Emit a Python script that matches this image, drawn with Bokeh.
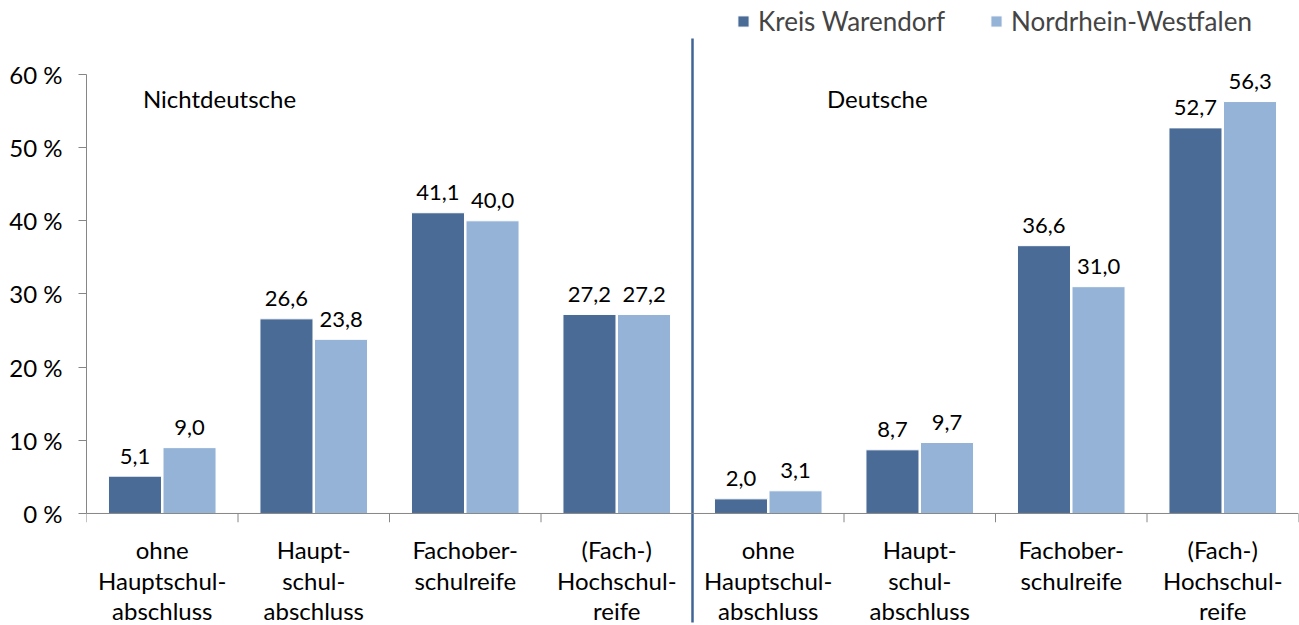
from bokeh.plotting import figure
from bokeh.models import ColumnDataSource, Legend, LegendItem, FixedTicker, Range1d, Span
from bokeh.core.properties import value
from bokeh.embed import file_html
from bokeh.resources import INLINE

# ---- data ----
categories = [
    "ohne\nHauptschul-\nabschluss", "Haupt-\nschul-\nabschluss", "Fachober-\nschulreife", "(Fach-)\nHochschul-\nreife",
    "ohne\nHauptschul-\nabschluss", "Haupt-\nschul-\nabschluss", "Fachober-\nschulreife", "(Fach-)\nHochschul-\nreife",
]
warendorf = [5.1, 26.6, 41.1, 27.2, 2.0, 8.7, 36.6, 52.7]
nrw = [9.0, 23.8, 40.0, 27.2, 3.1, 9.7, 31.0, 56.3]
series_names = ["Kreis Warendorf", "Nordrhein-Westfalen"]
group_labels = ["Nichtdeutsche", "Deutsche"]
y_ticks = [0, 10, 20, 30, 40, 50, 60]

FONT = "Lato"
DARK = "#4a6b96"
LIGHT = "#95b3d7"
AXIS = "#868686"

n = len(categories)
centers = [i + 0.5 for i in range(n)]
off = 0.18
bw = 0.35
Y0, Y1 = -15.31, 70.11

fmt = lambda v: f"{v:.1f}".replace(".", ",")

src = ColumnDataSource(dict(
    xw=[c - off for c in centers], xn=[c + off for c in centers],
    w=warendorf, n=nrw,
    wl=[fmt(v) for v in warendorf], nl=[fmt(v) for v in nrw],
))

p = figure(width=1299, height=625, x_range=Range1d(0, n), y_range=Range1d(Y0, Y1),
           output_backend="svg", toolbar_location=None,
           min_border_left=86, min_border_right=1, min_border_top=0, min_border_bottom=0)
p.xaxis.visible = False
p.grid.visible = False
p.outline_line_color = None
p.background_fill_color = "white"

yax = p.yaxis[0]
yax.ticker = FixedTicker(ticks=y_ticks)
yax.bounds = (0, 60)
yax.major_label_overrides = {t: f"{t} %" for t in y_ticks}
yax.minor_tick_line_color = None
yax.major_tick_in = 0
yax.major_tick_out = 8
yax.major_tick_line_color = AXIS
yax.axis_line_color = AXIS
yax.major_label_text_font = FONT
yax.major_label_text_font_size = "24px"
yax.major_label_text_color = "black"
yax.major_label_standoff = 16

# baseline and category boundary ticks
p.add_layout(Span(location=0, dimension="width", line_color=AXIS, line_width=1))
bounds = list(range(n + 1))
p.segment(x0=bounds, y0=[0] * len(bounds), x1=bounds, y1=[-1.2] * len(bounds), line_color=AXIS, line_width=1)

rw = p.vbar(x="xw", top="w", width=bw, source=src, fill_color=DARK, line_color="white", line_width=1)
rn = p.vbar(x="xn", top="n", width=bw, source=src, fill_color=LIGHT, line_color="white", line_width=1)

p.text(x="xw", y="w", text="wl", source=src, text_align="center", text_baseline="alphabetic", y_offset=-20,
       text_font=value(FONT), text_font_size="22px", text_color="black")
p.text(x="xn", y="n", text="nl", source=src, text_align="center", text_baseline="alphabetic", y_offset=-20,
       text_font=value(FONT), text_font_size="22px", text_color="black")

# category labels
p.text(x=centers, y=[-3.0] * n, text=categories, text_align="center", text_baseline="top",
       text_font=value(FONT), text_font_size="24px", text_color="black", text_line_height=1.04)

# group labels
p.text(x=[0.878, 5.22], y=[56.7] * 2, text=group_labels, text_align="center", text_baseline="middle",
       text_font=value(FONT), text_font_size="24px", text_color="black")

# divider between the two groups
p.segment(x0=[n / 2], y0=[-14.9], x1=[n / 2], y1=[64.9], line_color="#3f6496", line_width=2.5)

for name, r, lx in [(series_names[0], rw, 650), (series_names[1], rn, 903)]:
    lg = Legend(items=[LegendItem(label=name, renderers=[r])],
                orientation="horizontal", location=(lx, 588),
                label_text_font=FONT, label_text_font_size="26px",
                glyph_width=14, glyph_height=14, label_standoff=8,
                padding=0, margin=0, border_line_color=None, background_fill_alpha=0)
    p.add_layout(lg)

open("out.html", "w").write(file_html(p, INLINE))
